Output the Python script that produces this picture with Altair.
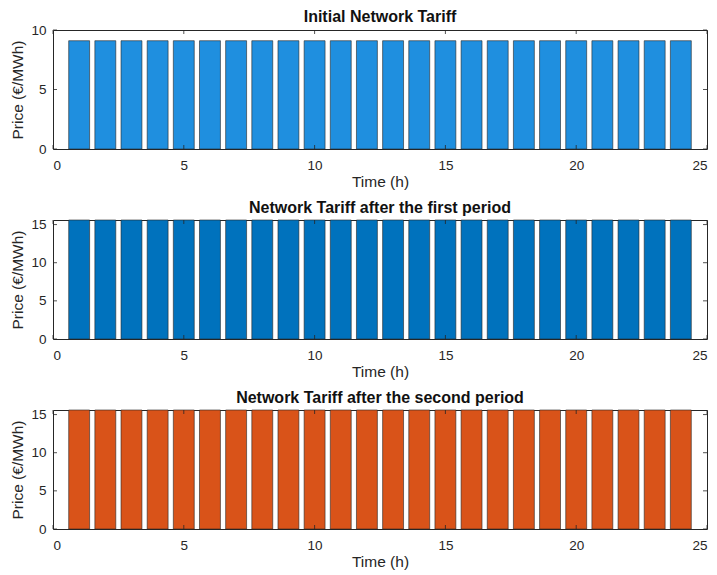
import altair as alt
import pandas as pd

# hourly network tariff (EUR/MWh)
hours = list(range(1, 25))
initial_tariff = [9.1, 9.1, 9.1, 9.1, 9.1, 9.1, 9.1, 9.1, 9.1, 9.1, 9.1, 9.1,
                  9.1, 9.1, 9.1, 9.1, 9.1, 9.1, 9.1, 9.1, 9.1, 9.1, 9.1, 9.1]
first_tariff = [15.6, 15.6, 15.6, 15.6, 15.6, 15.6, 15.6, 15.6, 15.6, 15.6, 15.6, 15.6,
                15.6, 15.6, 15.6, 15.6, 15.6, 15.6, 15.6, 15.6, 15.6, 15.6, 15.6, 15.6]
second_tariff = [15.6, 15.6, 15.6, 15.6, 15.6, 15.6, 15.6, 15.6, 15.6, 15.6, 15.6, 15.6,
                 15.6, 15.6, 15.6, 15.6, 15.6, 15.6, 15.6, 15.6, 15.6, 15.6, 15.6, 15.6]

x_ticks = [0, 5, 10, 15, 20, 25]
y_ticks_initial = [0, 5, 10]
y_ticks_later = [0, 5, 10, 15]

W, H = 654, 119
FONT = 'Liberation Sans'
INK = '#262626'


def panel(values, color, title, ymax, yticks, offset):
    df = pd.DataFrame({'hour': hours, 'price': values})
    xs = alt.Scale(domain=[0, 25], nice=False)
    ys = alt.Scale(domain=[0, ymax], nice=False)
    xax = alt.Axis(values=x_ticks, tickSize=0, labelPadding=9, domain=False,
                   grid=False, titlePadding=3, labelOverlap=False, labelFlush=True)
    yax = alt.Axis(values=yticks, tickSize=0, labelPadding=7, domain=False,
                   grid=False, titlePadding=5, labelOverlap=False)

    bars = alt.Chart(df).transform_calculate(
        x0='datum.hour - 0.4', x1='datum.hour + 0.4'
    ).mark_bar(color=color, stroke=INK, strokeWidth=0.6).encode(
        x=alt.X('x0:Q', scale=xs, title='Time (h)', axis=xax),
        x2='x1:Q',
        y=alt.Y('price:Q', scale=ys, title='Price (€/MWh)', axis=yax),
        y2=alt.datum(0),
    )

    # inward ticks on all four sides, like the original
    xt = pd.DataFrame({'t': x_ticks})
    yt = pd.DataFrame({'t': yticks})
    tb = alt.Chart(xt).mark_rule(color=INK, strokeWidth=0.8).encode(
        x=alt.X('t:Q', scale=xs, title='Time (h)', axis=xax),
        y=alt.value(H), y2=alt.value(H - 4))
    tt = alt.Chart(xt).mark_rule(color=INK, strokeWidth=0.8).encode(
        x=alt.X('t:Q', scale=xs, title='Time (h)', axis=xax),
        y=alt.value(0), y2=alt.value(4))
    tl = alt.Chart(yt).mark_rule(color=INK, strokeWidth=0.8).encode(
        y=alt.Y('t:Q', scale=ys, title='Price (€/MWh)', axis=yax),
        x=alt.value(0), x2=alt.value(4))
    tr = alt.Chart(yt).mark_rule(color=INK, strokeWidth=0.8).encode(
        y=alt.Y('t:Q', scale=ys, title='Price (€/MWh)', axis=yax),
        x=alt.value(W), x2=alt.value(W - 4))

    return alt.layer(bars, tb, tt, tl, tr).properties(
        width=W, height=H,
        title=alt.TitleParams(title, fontSize=16, fontWeight='bold',
                              font=FONT, color='#111', offset=offset),
    )


chart = alt.vconcat(
    panel(initial_tariff, '#1f8fdf', 'Initial Network Tariff', 10, y_ticks_initial, -2),
    panel(first_tariff, '#0072bd', 'Network Tariff after the first period', 15.6, y_ticks_later, 2),
    panel(second_tariff, '#d95319', 'Network Tariff after the second period', 15.6, y_ticks_later, 2),
    spacing=8,
).properties(
    background='white',
    padding={'left': 2, 'right': 0, 'top': 0, 'bottom': 0},
).configure_axis(
    labelFont=FONT, titleFont=FONT, labelFontSize=13.5, titleFontSize=15.5,
    labelColor=INK, titleColor=INK, titleFontWeight='normal',
).configure_view(
    stroke=INK, strokeWidth=1,
)

chart.save("out.html", embed_options={"renderer": "svg", "actions": False})
